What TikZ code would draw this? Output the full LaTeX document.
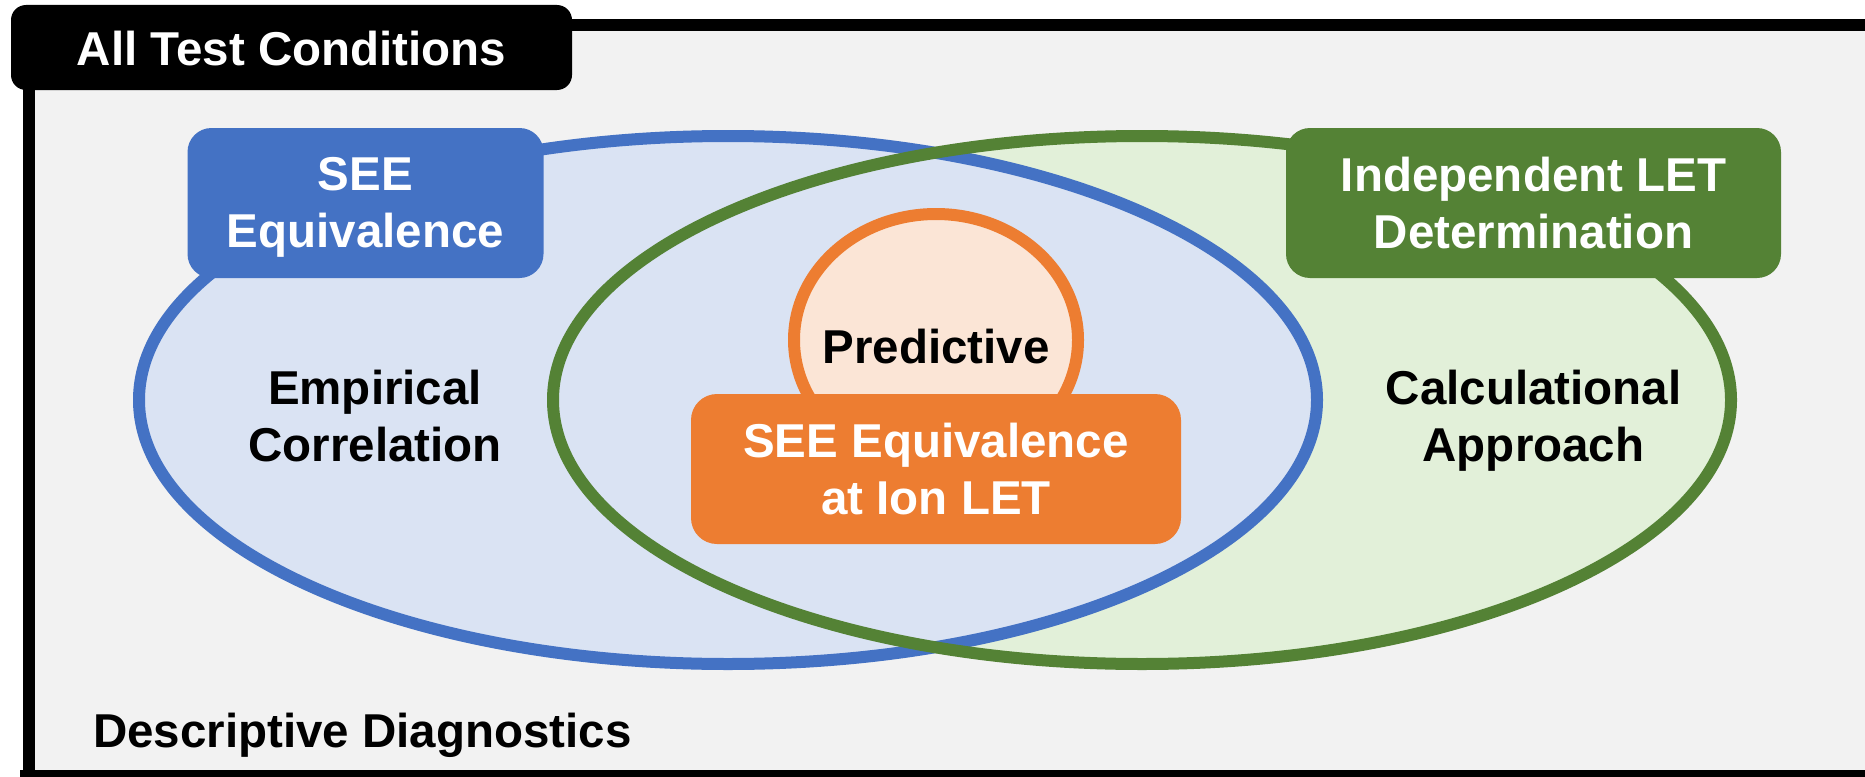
\documentclass[tikz,border=0pt]{standalone}
\usepackage{fontspec}
\setmainfont{Liberation Sans}
\definecolor{panelgray}{HTML}{F2F2F2}
\definecolor{setblue}{HTML}{4472C4}
\definecolor{setbluefill}{HTML}{DAE3F3}
\definecolor{setgreen}{HTML}{548235}
\definecolor{setgreenfill}{HTML}{E2F0D9}
\definecolor{setorange}{HTML}{ED7D31}
\definecolor{setorangefill}{HTML}{FBE5D6}
\begin{document}
\begin{tikzpicture}[x=1pt,y=-1pt,
  txt/.style={font=\fontsize{47.5}{57}\selectfont\bfseries, align=center, inner sep=0pt},
  tagbox/.style={rounded corners=24pt, inner sep=0pt, minimum height=150pt},
  setline/.style={line width=12pt}]
\useasboundingbox (0,0) rectangle (1865,776);
\clip (0,0) rectangle (1865,776);

% outer panel with its heavy black frame
\fill[panelgray] (29,25) rectangle (1890,800);
\draw[line width=12pt] (29,800) -- (29,25) -- (1890,25);
\draw[line width=12pt] (20,776) -- (1890,776);

% title tab
\node[fill=black, rounded corners=15pt, minimum width=561pt, minimum height=85pt, inner sep=0pt] (tab) at (291.5,47.5) {};
\node[txt, text=white, anchor=base] (tabtext) at (291.5,66) {All Test Conditions};

% the two sets: fills first, green outline on top
\fill[setgreenfill] (1142,400) ellipse [x radius=589, y radius=264];
\filldraw[setline, draw=setblue, fill=setbluefill] (728,400) ellipse [x radius=589, y radius=264];
\draw[setline, setgreen] (1142,400) ellipse [x radius=589, y radius=264];

% set headers
\node[tagbox, fill=setblue, minimum width=356pt] (seebox) at (365.5,203) {};
\node[txt, text=white] (seetext) at (365.5,207.5) {SEE\\Equivalence};
\node[tagbox, fill=setgreen, minimum width=495pt] (letbox) at (1533.5,203) {};
\node[txt, text=white] (lettext) at (1533.5,203.5) {Independent LET\\Determination};

% set contents
\node[txt] (empirical) at (375,416.5) {Empirical\\Correlation};
\node[txt] (calc) at (1533.5,420.5) {Calculational\\Approach};

% predictive core
\filldraw[setline, draw=setorange, fill=setorangefill] (936,340) ellipse [x radius=142, y radius=126];
\node[txt, anchor=base] (pred) at (936,363) {Predictive};
\node[tagbox, fill=setorange, minimum width=490pt, rounded corners=26pt] (ionbox) at (936,469) {};
\node[txt, text=white] (iontext) at (936,469) {SEE Equivalence\\at Ion LET};

% panel footer
\node[txt, anchor=base west] (desc) at (93,747) {Descriptive Diagnostics};
\end{tikzpicture}
\end{document}
